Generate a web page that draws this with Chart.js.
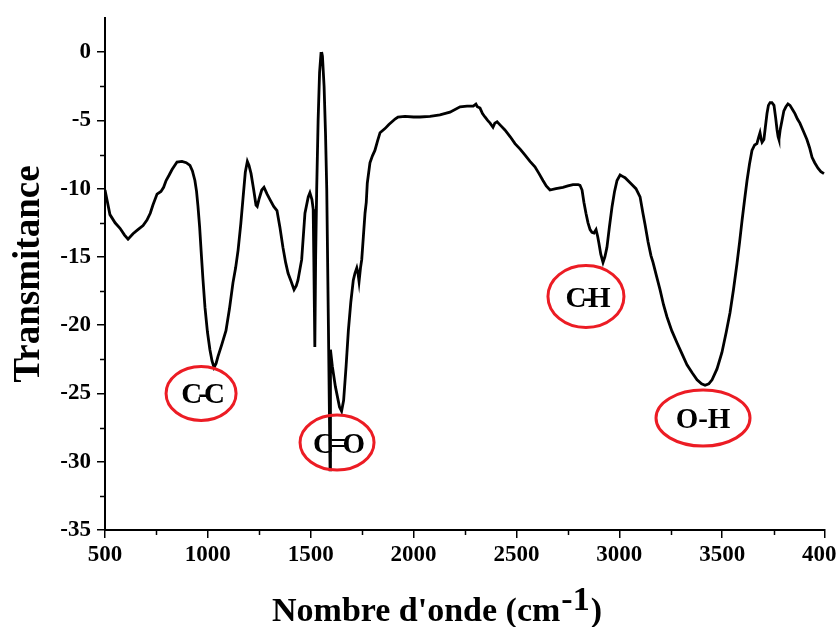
<!DOCTYPE html>
<html>
<head>
<meta charset="utf-8">
<script src="https://cdn.jsdelivr.net/npm/chart.js@4/dist/chart.umd.min.js"></script>
<style>
    html, body { margin: 0; padding: 0; background: #fff; }
    #wrap { width: 837px; height: 627px; }
</style>
</head>
<body>
<div id="wrap"><canvas id="ftir"></canvas></div>
<script>
// FTIR spectrum
const wavenumbers = [
    500, 512, 524, 549, 573, 595, 612, 636, 660, 685, 704, 720, 733, 753, 772, 785, 797, 812, 826, 850,
    874, 895, 913, 925, 937, 945, 952, 960, 967, 976, 986, 998, 1010, 1020, 1030, 1040, 1049, 1068, 1088, 1105,
    1122, 1135, 1147, 1160, 1171, 1182, 1192, 1200, 1210, 1222, 1234, 1240, 1250, 1262, 1273, 1288, 1302, 1320, 1336, 1350,
    1365, 1378, 1390, 1405, 1419, 1430, 1438, 1456, 1472, 1488, 1496, 1506, 1512, 1515, 1518, 1520, 1524, 1529, 1536, 1543,
    1550, 1553, 1557, 1565, 1572, 1578, 1586, 1594, 1596, 1605, 1620, 1640, 1650, 1660, 1672, 1683, 1695, 1707, 1715, 1724,
    1730, 1735, 1742, 1748, 1756, 1764, 1770, 1775, 1788, 1800, 1812, 1825, 1837, 1861, 1880, 1895, 1910, 1924, 1958, 2000,
    2031, 2080, 2128, 2177, 2226, 2260, 2290, 2303, 2310, 2323, 2335, 2347, 2360, 2372, 2386, 2395, 2406, 2425, 2444, 2470,
    2493, 2518, 2542, 2566, 2590, 2610, 2629, 2645, 2663, 2692, 2726, 2750, 2775, 2800, 2809, 2819, 2828, 2838, 2848, 2858,
    2867, 2877, 2887, 2895, 2901, 2910, 2921, 2930, 2940, 2952, 2965, 2977, 2989, 3004, 3016, 3028, 3055, 3081, 3101, 3115,
    3125, 3140, 3154, 3164, 3181, 3198, 3215, 3232, 3255, 3281, 3305, 3329, 3355, 3378, 3400, 3417, 3435, 3451, 3475, 3499,
    3520, 3538, 3555, 3572, 3585, 3597, 3610, 3621, 3633, 3645, 3658, 3669, 3678, 3684, 3690, 3694, 3703, 3710, 3718, 3725,
    3733, 3742, 3752, 3760, 3767, 3772, 3776, 3782, 3791, 3800, 3810, 3820, 3830, 3842, 3854, 3866, 3878, 3895, 3912, 3925,
    3937, 3950, 3966, 3980, 3995
];
const transmittance = [
    -10.1, -11.0, -11.9, -12.5, -12.9, -13.4, -13.7, -13.3, -13.0, -12.7, -12.3, -11.8, -11.2, -10.4, -10.2, -9.9, -9.4, -9.0, -8.6, -8.05,
    -8.0, -8.1, -8.3, -8.7, -9.4, -10.2, -11.3, -12.8, -14.5, -16.6, -18.7, -20.5, -21.8, -22.6, -23.1, -22.8, -22.3, -21.4, -20.4, -18.8,
    -16.9, -15.8, -14.5, -12.6, -10.7, -8.8, -8.0, -8.3, -8.9, -10.0, -11.2, -11.3, -10.7, -10.1, -9.9, -10.4, -10.8, -11.3, -11.6, -12.8,
    -14.3, -15.4, -16.2, -16.8, -17.4, -17.1, -16.7, -15.2, -11.8, -10.6, -10.3, -10.8, -11.5, -15.0, -19.0, -21.6, -15.0, -10.1, -5.0, -1.5,
    -0.1, 0.0, -0.3, -2.5, -6.0, -10.1, -20.0, -30.6, -21.8, -23.0, -24.5, -26.0, -26.3, -25.5, -23.0, -20.4, -18.3, -16.7, -16.2, -15.8,
    -16.2, -16.8, -15.8, -15.2, -13.5, -11.8, -11.0, -9.6, -8.1, -7.6, -7.2, -6.5, -5.9, -5.6, -5.3, -5.1, -4.9, -4.75, -4.7, -4.75,
    -4.75, -4.7, -4.6, -4.4, -4.0, -3.95, -3.95, -3.8, -4.0, -4.1, -4.5, -4.75, -5.0, -5.2, -5.5, -5.2, -5.1, -5.4, -5.7, -6.2,
    -6.7, -7.1, -7.55, -8.0, -8.4, -8.9, -9.4, -9.8, -10.1, -10.0, -9.9, -9.8, -9.7, -9.7, -9.75, -10.1, -11.0, -11.8, -12.5, -13.0,
    -13.2, -13.25, -13.0, -13.5, -14.0, -14.8, -15.4, -15.0, -14.3, -12.8, -11.3, -10.2, -9.4, -9.0, -9.1, -9.2, -9.6, -10.0, -10.6, -11.8,
    -12.6, -13.9, -14.9, -15.4, -16.4, -17.4, -18.5, -19.4, -20.4, -21.3, -22.1, -22.9, -23.5, -24.0, -24.3, -24.4, -24.3, -24.0, -23.2, -22.0,
    -20.5, -19.1, -17.4, -15.5, -13.9, -12.3, -10.7, -9.4, -8.2, -7.2, -6.8, -6.7, -6.2, -5.9, -6.4, -6.6, -6.4, -5.5, -4.5, -3.9,
    -3.7, -3.7, -3.9, -4.8, -5.7, -6.2, -6.4, -5.7, -5.0, -4.3, -4.0, -3.8, -3.9, -4.2, -4.5, -4.9, -5.2, -5.8, -6.4, -7.0,
    -7.7, -8.1, -8.5, -8.75, -8.9
];

const xTicks = [500, 1000, 1500, 2000, 2500, 3000, 3500, 4000];
const yTicks = [-35, -30, -25, -20, -15, -10, -5, 0];

// band labels
const bandNames = ["C-C", "C=O", "C-H", "O-H"];
const bandX = [967, 1628, 2838, 3407];
const bandY = [-25.0, -28.6, -17.9, -26.8];

const serif = "'Liberation Serif', 'Times New Roman', serif";

// ellipse sizes for each label (px)
const ringSize = [[35, 27], [37, 27.5], [38, 31], [47, 28]];

const bandPlugin = {
    id: "bands",
    afterDatasetsDraw(chart) {
        const c = chart.ctx;
        const sx = chart.scales.x, sy = chart.scales.y;
        c.save();
        bandNames.forEach(function (name, i) {
            const px = sx.getPixelForValue(bandX[i]);
            const py = sy.getPixelForValue(bandY[i]);
            c.beginPath();
            c.ellipse(px, py, ringSize[i][0], ringSize[i][1], 0, 0, Math.PI * 2);
            c.lineWidth = 3;
            c.strokeStyle = "#ec1c24";
            c.stroke();
            c.fillStyle = "#000";
            c.font = "bold 29px " + serif;
            c.textAlign = "center";
            c.textBaseline = "alphabetic";
            c.letterSpacing = name === "O-H" ? "0px" : "-4px";
            c.fillText(name, px, py + 10);
        });
        c.restore();
    },
};

// minor ticks + x title with the superscript
const extrasPlugin = {
    id: "extras",
    afterDraw(chart) {
        const c = chart.ctx;
        const sx = chart.scales.x, sy = chart.scales.y;
        const area = chart.chartArea;
        c.save();
        c.strokeStyle = "#000";
        c.lineWidth = 1.5;
        c.beginPath();
        for (let v = 750; v < 4000; v += 500) {
            const px = Math.round(sx.getPixelForValue(v)) + 0.5;
            c.moveTo(px, area.bottom);
            c.lineTo(px, area.bottom + 5);
        }
        for (let v = -32.5; v < 0; v += 5) {
            const py = Math.round(sy.getPixelForValue(v)) + 0.5;
            c.moveTo(area.left, py);
            c.lineTo(area.left - 5, py);
        }
        c.stroke();

        c.fillStyle = "#000";
        c.font = "bold 34px " + serif;
        c.textAlign = "left";
        c.textBaseline = "alphabetic";
        let x = 272;
        const base = 621;
        const part1 = "Nombre d'onde (cm";
        c.fillText(part1, x, base);
        x += c.measureText(part1).width;
        c.fillText("-1", x + 1, base - 11);
        x += c.measureText("-1").width + 2;
        c.fillText(")", x, base);
        c.restore();
    },
};

const ctx = document.getElementById("ftir").getContext("2d");

new Chart(ctx, {
    type: "scatter",
    data: {
        datasets: [
            {
                label: "FTIR",
                data: wavenumbers.map((w, i) => ({ x: w, y: transmittance[i] })),
                showLine: true,
                borderColor: "#000",
                borderWidth: 2.8,
                pointRadius: 0,
                tension: 0,
                fill: false,
            },
        ],
    },
    options: {
        responsive: true,
        maintainAspectRatio: false,
        animation: false,
        layout: {
            padding: { top: 18, right: 12, left: 0, bottom: 0 },
        },
        plugins: {
            legend: { display: false },
            tooltip: { enabled: false },
        },
        scales: {
            x: {
                type: "linear",
                min: 500,
                max: 4000,
                afterBuildTicks: (s) => { s.ticks = xTicks.map((v) => ({ value: v })); },
                afterFit: (s) => { s.height = 97; s.paddingLeft = 0; s.paddingRight = 0; },
                border: { display: true, color: "#000", width: 2 },
                grid: { drawOnChartArea: false, drawTicks: true, tickLength: 8, color: "#000", lineWidth: 1.5 },
                ticks: {
                    color: "#000",
                    padding: 3,
                    maxRotation: 0,
                    autoSkip: false,
                    callback: (v) => String(v),
                    font: { family: serif, size: 23, weight: "bold" },
                },
                title: { display: false },
            },
            y: {
                min: -35,
                max: 2.5,
                afterBuildTicks: (s) => { s.ticks = yTicks.map((v) => ({ value: v })); },
                afterFit: (s) => { s.width = 105; s.paddingTop = 0; s.paddingBottom = 0; },
                border: { display: true, color: "#000", width: 2 },
                grid: { drawOnChartArea: false, drawTicks: true, tickLength: 8, color: "#000", lineWidth: 1.5 },
                ticks: {
                    color: "#000",
                    padding: 6,
                    autoSkip: false,
                    callback: (v) => String(v),
                    font: { family: serif, size: 23, weight: "bold" },
                },
                title: {
                    display: true,
                    text: "Transmitance",
                    color: "#000",
                    padding: { top: 7, bottom: 0 },
                    font: { family: serif, size: 37, weight: "bold", lineHeight: 1.2 },
                },
            },
        },
    },
    plugins: [bandPlugin, extrasPlugin],
});
</script>
</body>
</html>
